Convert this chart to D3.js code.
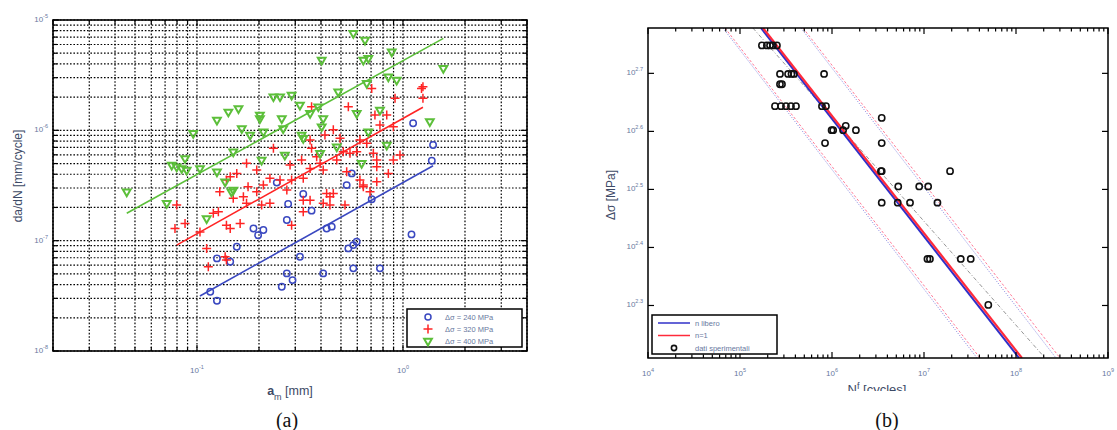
<!DOCTYPE html>
<html><head><meta charset="utf-8">
<script src="https://cdn.jsdelivr.net/npm/d3@7"></script>
<style>
body{margin:0;background:#fff;}
svg{display:block;font-family:"Liberation Sans",Arial,sans-serif;}
</style>
</head><body>
<svg id="c" width="1117" height="430"></svg>
<script>
// ================= DATA =================
// Panel (a): crack growth rate vs mean crack length
const s240 = [ // Δσ = 240 MPa  [a_m (mm), da/dN (mm/cycle)]
 [1.12,1.16e-6],[1.40,7.36e-7],[1.38,5.30e-7],[0.564,4.07e-7],[0.533,3.19e-7],[0.244,3.36e-7],
 [0.328,2.65e-7],[0.277,2.15e-7],[0.360,1.87e-7],[0.705,2.37e-7],[0.273,1.54e-7],[0.188,1.29e-7],
 [0.210,1.25e-7],[0.198,1.12e-7],[0.426,1.29e-7],[0.451,1.34e-7],[1.10,1.14e-7],[0.156,8.81e-8],
 [0.543,8.51e-8],[0.574,9.12e-8],[0.596,9.77e-8],[0.125,6.91e-8],[0.145,6.44e-8],[0.316,7.14e-8],
 [0.574,5.61e-8],[0.773,5.61e-8],[0.410,5.05e-8],[0.273,5.05e-8],[0.291,4.39e-8],[0.258,3.82e-8],
 [0.116,3.44e-8],[0.125,2.85e-8]
];
const s320 = [ // Δσ = 320 MPa
 [1.25,2.48e-6],[1.23,2.40e-6],[0.705,2.40e-6],[1.25,1.95e-6],[0.915,1.95e-6],[0.543,1.64e-6],
 [0.360,1.64e-6],[0.731,1.38e-6],[0.834,1.38e-6],[0.898,1.08e-6],[0.773,1.12e-6],[0.459,1.01e-6],
 [0.418,9.07e-7],[0.495,8.46e-7],[0.354,8.17e-7],[0.618,8.17e-7],[0.667,7.62e-7],[0.360,6.87e-7],
 [0.235,6.87e-7],[0.513,6.40e-7],[0.553,6.19e-7],[0.596,6.40e-7],[0.718,6.19e-7],[0.967,5.97e-7],
 [0.322,5.38e-7],[0.381,5.76e-7],[0.396,5.02e-7],[0.477,5.38e-7],[0.746,5.38e-7],[0.746,4.68e-7],
 [0.898,5.38e-7],[0.174,5.02e-7],[0.283,4.84e-7],[0.195,4.37e-7],[0.354,4.52e-7],[0.410,4.37e-7],
 [0.533,4.21e-7],[0.156,4.07e-7],[0.849,4.07e-7],[0.145,3.80e-7],[0.139,3.54e-7],[0.226,3.67e-7],
 [0.253,3.54e-7],[0.288,3.54e-7],[0.328,3.67e-7],[0.618,3.54e-7],[0.642,3.19e-7],[0.746,3.42e-7],
 [0.210,3.19e-7],[0.177,3.08e-7],[0.129,2.77e-7],[0.426,2.68e-7],[0.195,2.77e-7],[0.273,2.88e-7],
 [0.168,2.50e-7],[0.174,2.18e-7],[0.0797,2.10e-7],[0.120,1.77e-7],[0.127,1.83e-7],[0.150,2.42e-7],
 [0.206,2.10e-7],[0.226,2.18e-7],[0.328,2.33e-7],[0.354,2.33e-7],[0.410,2.18e-7],[0.442,2.10e-7],
 [0.459,2.68e-7],[0.328,1.83e-7],[0.523,2.10e-7],[0.642,3.08e-7],[0.692,2.77e-7],[0.0782,1.29e-7],
 [0.0875,1.43e-7],[0.139,1.38e-7],[0.145,1.29e-7],[0.162,1.43e-7],[0.1034,1.20e-7],[0.288,1.38e-7],
 [0.1114,8.51e-8],[0.137,7.14e-8],[0.139,6.67e-8],[0.1135,5.80e-8],[0.442,2.50e-7]
];
const s400 = [ // Δσ = 400 MPa
 [0.574,7.57e-6],[0.654,6.59e-6],[0.882,5.16e-6],[0.642,4.34e-6],[0.679,4.50e-6],[0.403,4.34e-6],
 [1.57,3.65e-6],[0.849,3.06e-6],[0.932,2.86e-6],[0.667,2.67e-6],[0.485,2.24e-6],[0.235,2.02e-6],
 [0.253,2.02e-6],[0.288,2.09e-6],[0.316,1.70e-6],[0.388,1.64e-6],[0.159,1.58e-6],[0.142,1.47e-6],
 [0.354,1.43e-6],[0.773,1.53e-6],[0.596,1.43e-6],[0.202,1.38e-6],[0.202,1.28e-6],[0.125,1.24e-6],
 [0.258,1.28e-6],[0.410,1.28e-6],[1.35,1.20e-6],[0.165,1.04e-6],[0.403,1.08e-6],[0.262,1.04e-6],
 [0.210,9.7e-7],[0.181,9.07e-7],[0.0959,9.4e-7],[0.322,9.07e-7],[0.328,8.46e-7],[0.679,9.7e-7],
 [0.834,7.36e-7],[0.477,7.10e-7],[0.150,6.40e-7],[0.267,5.97e-7],[0.206,5.38e-7],[0.396,6.19e-7],
 [0.630,5.02e-7],[0.0875,5.57e-7],[0.0754,4.84e-7],[0.0797,4.68e-7],[0.0843,4.52e-7],[0.1034,4.52e-7],
 [0.125,4.21e-7],[0.0891,4.37e-7],[0.137,3.42e-7],[0.0456,2.77e-7],[0.150,2.88e-7],[0.0713,2.18e-7],
 [0.147,2.77e-7],[0.1114,1.59e-7]
];
const fit240 = [[0.1034,3.15e-8],[1.40,4.78e-7]];
const fit320 = [[0.0797,9.12e-8],[1.25,1.62e-6]];
const fit400 = [[0.0456,1.77e-7],[1.57,6.82e-6]];
const legendA = ["\u0394\u03c3 = 240 MPa","\u0394\u03c3 = 320 MPa","\u0394\u03c3 = 400 MPa"];
const xTicksA = [0.1, 1], xExpA = ["-1","0"];
const yTicksA = [1e-5,1e-6,1e-7,1e-8], yExpA = ["-5","-6","-7","-8"];

// Panel (b): S-N data [N_f (cycles), Δσ (MPa)]
const snData = [
 [1.73e5,560],[1.96e5,560],[2.12e5,560],[2.28e5,560],[2.52e5,560],
 [2.72e5,500],[3.33e5,500],[3.63e5,500],[3.86e5,500],[8.2e5,500],
 [2.72e5,480],[2.86e5,480],
 [2.4e5,440],[2.79e5,440],[3.16e5,440],[3.58e5,440],[4.06e5,440],[7.78e5,440],[8.6e5,440],
 [3.47e6,420],[1.41e6,407],
 [9.9e5,400],[1.03e6,400],[1.32e6,400],[1.82e6,400],
 [8.4e5,380],[3.47e6,380],
 [3.47e6,340],[3.40e6,340],[1.92e7,340],
 [5.25e6,320],[8.87e6,320],[1.11e7,320],
 [3.47e6,300],[5.18e6,300],[7.05e6,300],[1.40e7,300],
 [1.09e7,240],[1.16e7,240],[2.51e7,240],[3.22e7,240],
 [5.0e7,200]
];
const lineFree = [[1.69e5,600],[1.08e8,162]];     // n libero
const lineN1   = [[1.78e5,600],[1.16e8,162]];     // n=1
const bandN1Lo = [[6.87e4,600],[4.06e7,162]];
const bandN1Hi = [[4.84e5,600],[3.01e8,162]];
const bandFrLo = [[6.53e4,600],[3.77e7,162]];
const bandFrHi = [[4.60e5,600],[2.72e8,162]];
const lineMean = [[1.38e5,600],[2.07e8,162]];
const legendB = ["n libero","n=1","dati sperimentali"];
const xTicksB = [1e4,1e5,1e6,1e7,1e8,1e9], xExpB = ["4","5","6","7","8","9"];
const yTicksB = [Math.pow(10,2.3),Math.pow(10,2.4),Math.pow(10,2.5),Math.pow(10,2.6),Math.pow(10,2.7)];
const yExpB = ["2.3","2.4","2.5","2.6","2.7"];

// ================= DRAW =================
const svg = d3.select("#c");
const TICKC = "#6878a0", TITLEC = "#3d4a66";
const BLUE = "#3a48c0", RED = "#ff2424", GREEN = "#5cbf3a";

function powLabel(g, x, y, exp, anchor){
  const t = g.append("text").attr("x",x).attr("y",y).attr("text-anchor",anchor)
    .attr("fill",TICKC).attr("font-size",8);
  t.append("tspan").text("10");
  t.append("tspan").attr("dy",-4).attr("font-size",5.5).text(exp);
}

// ---------- Panel (a) ----------
const xA = d3.scaleLog().domain([0.02,4]).range([53,527]);
const yA = d3.scaleLog().domain([1e-8,1e-5]).range([351,20]);
const gA = svg.append("g");
svg.append("defs").append("clipPath").attr("id","clipA").append("rect")
  .attr("x",53).attr("y",20).attr("width",474).attr("height",331);

const isMajor = v => Math.abs(Math.log10(v) - Math.round(Math.log10(v))) < 1e-6;
// grid
const gridA = gA.append("g").attr("stroke","#000").attr("stroke-width",1.2)
  .attr("stroke-dasharray","1.6,1.8");
xA.ticks().forEach(v=>{
  gridA.append("line").attr("x1",xA(v)).attr("x2",xA(v)).attr("y1",20).attr("y2",351);
});
yA.ticks().forEach(v=>{
  gridA.append("line").attr("y1",yA(v)).attr("y2",yA(v)).attr("x1",53).attr("x2",527);
});
// ticks (inward)
const tkA = gA.append("g").attr("stroke","#000").attr("stroke-width",1.2);
xA.ticks().forEach(v=>{
  const L = isMajor(v)?6:4;
  tkA.append("line").attr("x1",xA(v)).attr("x2",xA(v)).attr("y1",351).attr("y2",351-L);
  tkA.append("line").attr("x1",xA(v)).attr("x2",xA(v)).attr("y1",20).attr("y2",20+L);
});
yA.ticks().forEach(v=>{
  const L = isMajor(v)?6:4;
  tkA.append("line").attr("y1",yA(v)).attr("y2",yA(v)).attr("x1",53).attr("x2",53+L);
  tkA.append("line").attr("y1",yA(v)).attr("y2",yA(v)).attr("x1",527).attr("x2",527-L);
});
// fits
const lineGenA = d3.line().x(d=>xA(d[0])).y(d=>yA(d[1]));
const plotA = gA.append("g").attr("clip-path","url(#clipA)");
[[fit240,BLUE],[fit320,RED],[fit400,GREEN]].forEach(([d,c])=>{
  plotA.append("path").attr("d",lineGenA(d)).attr("fill","none").attr("stroke",c).attr("stroke-width",1.6);
});
// markers
plotA.append("g").selectAll("circle").data(s240).join("circle")
  .attr("cx",d=>xA(d[0])).attr("cy",d=>yA(d[1])).attr("r",3.2)
  .attr("fill","none").attr("stroke",BLUE).attr("stroke-width",1.5);
plotA.append("g").selectAll("path").data(s320).join("path")
  .attr("transform",d=>`translate(${xA(d[0])},${yA(d[1])})`)
  .attr("d","M-4.5,0H4.5M0,-4.5V4.5").attr("stroke",RED).attr("stroke-width",1.5).attr("fill","none");
const tri = d3.symbol().type(d3.symbolTriangle).size(26);
plotA.append("g").selectAll("path").data(s400).join("path")
  .attr("transform",d=>`translate(${xA(d[0])},${yA(d[1])}) rotate(180)`)
  .attr("d",tri()).attr("stroke",GREEN).attr("stroke-width",2).attr("fill","none");
// box
gA.append("rect").attr("x",53).attr("y",20).attr("width",474).attr("height",331)
  .attr("fill","none").attr("stroke","#000").attr("stroke-width",1.6);
// tick labels
xTicksA.forEach((v,i)=>powLabel(gA, xA(v), 373, xExpA[i], "middle"));
yTicksA.forEach((v,i)=>powLabel(gA, 48, yA(v)+2, yExpA[i], "end"));
// legend
const lgA = gA.append("g");
lgA.append("rect").attr("x",407).attr("y",309).attr("width",115).attr("height",38)
  .attr("fill","#fff").attr("stroke","#000").attr("stroke-width",1.5);
legendA.forEach((t,i)=>{
  const y = 317 + i*12, x = 428;
  if(i===0) lgA.append("circle").attr("cx",x).attr("cy",y).attr("r",3).attr("fill","none").attr("stroke",BLUE).attr("stroke-width",1.5);
  if(i===1) lgA.append("path").attr("transform",`translate(${x},${y})`).attr("d","M-4.5,0H4.5M0,-4.5V4.5").attr("stroke",RED).attr("stroke-width",1.5);
  if(i===2) lgA.append("path").attr("transform",`translate(${x},${y}) rotate(180)`).attr("d",tri()).attr("stroke",GREEN).attr("stroke-width",2).attr("fill","none");
  lgA.append("text").attr("x",445).attr("y",y+2.5).attr("font-size",7.5).attr("fill",TICKC).text(t);
});
// titles
const xt = gA.append("text").attr("x",290).attr("y",395).attr("text-anchor","middle")
  .attr("fill",TITLEC).attr("font-size",12.5);
xt.append("tspan").attr("font-weight","bold").text("a");
xt.append("tspan").attr("dy",5).attr("font-size",9).text("m");
xt.append("tspan").attr("dy",-5).text(" [mm]");
gA.append("text").attr("transform","translate(22,176) rotate(-90)").attr("text-anchor","middle")
  .attr("fill",TITLEC).attr("font-size",12).text("da/dN [mm/cycle]");

// ---------- Panel (b) ----------
const xB = d3.scaleLog().domain([1e4,1e9]).range([648,1108]);
const yB = d3.scaleLog().domain([162,600]).range([358,28]);
const gB = svg.append("g");
svg.select("defs").append("clipPath").attr("id","clipB").append("rect")
  .attr("x",648).attr("y",28).attr("width",460).attr("height",330);
const plotB = gB.append("g").attr("clip-path","url(#clipB)");
const lineGenB = d3.line().x(d=>xB(d[0])).y(d=>yB(d[1]));
[[bandFrLo,"#6a6ad8","1,1.5",0.8],[bandFrHi,"#6a6ad8","1,1.5",0.8]].forEach(([d,c,da,w])=>{
  plotB.append("path").attr("d",lineGenB(d)).attr("fill","none").attr("stroke",c)
    .attr("stroke-width",w).attr("stroke-dasharray",da);
});
[[bandN1Lo,"#ff6a8a","2.5,2",0.9],[bandN1Hi,"#ff6a8a","2.5,2",0.9],[lineMean,"#8a8a8a","4,2,1,2",0.9]].forEach(([d,c,da,w])=>{
  plotB.append("path").attr("d",lineGenB(d)).attr("fill","none").attr("stroke",c)
    .attr("stroke-width",w).attr("stroke-dasharray",da);
});
plotB.append("path").attr("d",lineGenB(lineFree)).attr("fill","none").attr("stroke","#3030c8").attr("stroke-width",2);
plotB.append("path").attr("d",lineGenB(lineN1)).attr("fill","none").attr("stroke","#ff2a3a").attr("stroke-width",2.2);
plotB.append("g").selectAll("circle").data(snData).join("circle")
  .attr("cx",d=>xB(d[0])).attr("cy",d=>yB(d[1])).attr("r",3.1)
  .attr("fill","none").attr("stroke","#111").attr("stroke-width",1.6);
// ticks
const tkB = gB.append("g").attr("stroke","#000").attr("stroke-width",1.2);
xB.ticks().forEach(v=>{
  const L = isMajor(v)?6:3.5;
  tkB.append("line").attr("x1",xB(v)).attr("x2",xB(v)).attr("y1",358).attr("y2",358-L);
  tkB.append("line").attr("x1",xB(v)).attr("x2",xB(v)).attr("y1",28).attr("y2",28+L);
});
yTicksB.forEach(v=>{
  tkB.append("line").attr("y1",yB(v)).attr("y2",yB(v)).attr("x1",648).attr("x2",654);
  tkB.append("line").attr("y1",yB(v)).attr("y2",yB(v)).attr("x1",1108).attr("x2",1102);
});
gB.append("rect").attr("x",648).attr("y",28).attr("width",460).attr("height",330)
  .attr("fill","none").attr("stroke","#000").attr("stroke-width",1.5);
xTicksB.forEach((v,i)=>powLabel(gB, xB(v), 376, xExpB[i], "middle"));
yTicksB.forEach((v,i)=>powLabel(gB, 643, yB(v)+2, yExpB[i], "end"));
// legend
const lgB = gB.append("g");
lgB.append("rect").attr("x",652).attr("y",315).attr("width",125).attr("height",39)
  .attr("fill","#fff").attr("stroke","#000").attr("stroke-width",1.5);
legendB.forEach((t,i)=>{
  const y = 323 + i*12.5;
  if(i===0) lgB.append("line").attr("x1",658).attr("x2",690).attr("y1",y).attr("y2",y).attr("stroke","#3030c8").attr("stroke-width",1.5);
  if(i===1) lgB.append("line").attr("x1",658).attr("x2",690).attr("y1",y).attr("y2",y).attr("stroke","#ff2a3a").attr("stroke-width",1.5);
  if(i===2) lgB.append("circle").attr("cx",674).attr("cy",y).attr("r",2.6).attr("fill","none").attr("stroke","#111").attr("stroke-width",1.6);
  lgB.append("text").attr("x",695).attr("y",y+2.5).attr("font-size",7.5).attr("fill",TICKC).text(t);
});
// titles
gB.append("text").attr("transform","translate(615,195) rotate(-90)").attr("text-anchor","middle")
  .attr("fill",TITLEC).attr("font-size",12).text("\u0394\u03c3 [MPa]");
const xtb = gB.append("text").attr("x",877).attr("y",394).attr("text-anchor","middle")
  .attr("fill",TITLEC).attr("font-size",13);
xtb.append("tspan").text("N");
xtb.append("tspan").attr("dy",-5).attr("font-size",9).text("f");
xtb.append("tspan").attr("dy",5).text(" [cycles]");

// caption boxes (cover bottom of panel (b) x title as in the source)
svg.append("rect").attr("x",820).attr("y",391).attr("width",120).attr("height",39).attr("fill","#fff");
svg.append("text").attr("x",287).attr("y",427).attr("text-anchor","middle")
  .attr("font-family","'Liberation Serif',serif").attr("font-size",20).attr("fill","#111").text("(a)");
svg.append("text").attr("x",887).attr("y",427).attr("text-anchor","middle")
  .attr("font-family","'Liberation Serif',serif").attr("font-size",20).attr("fill","#111").text("(b)");
</script>
</body></html>
